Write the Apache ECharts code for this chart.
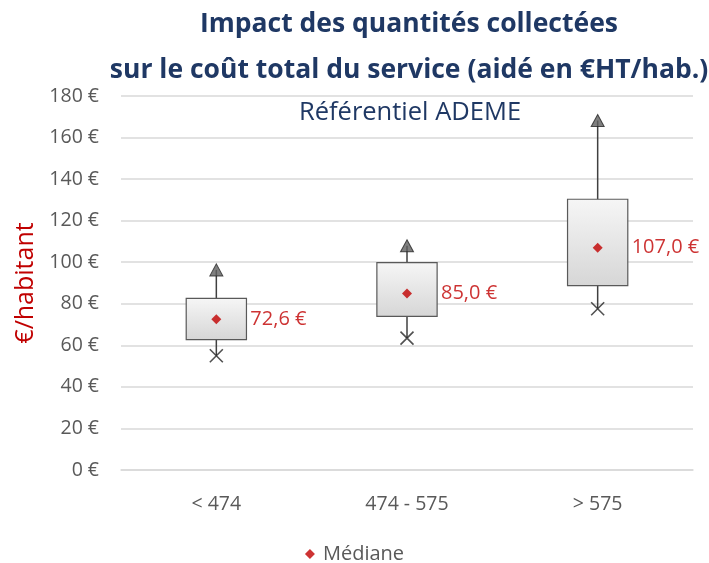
<!DOCTYPE html>
<html><head><meta charset="utf-8">
<script src="https://cdn.jsdelivr.net/npm/echarts@6/dist/echarts.min.js"></script>
<style>html,body{margin:0;padding:0;background:#fff}#c{width:709px;height:563px}</style>
</head><body><div id="c"></div>
<script>
const categories = ['< 474', '474 - 575', '> 575'];
const q1Values = [62.7, 73.9, 88.7];
const q3Values = [82.6, 99.8, 130.3];
const maxValues = [96.3, 107.9, 168.2];
const minValues = [55.0, 63.5, 77.6];
const medianValues = [72.6, 85.0, 107.0];
const yTicks = [0, 20, 40, 60, 80, 100, 120, 140, 160, 180];

const chart = echarts.init(document.getElementById('c'));
const FONT = 'Open Sans';
const boxData = categories.map((c, i) => [i, q1Values[i], q3Values[i], minValues[i], maxValues[i]]);

chart.setOption({
  animation: false,
  textStyle: { fontFamily: FONT },
  title: [
    { text: 'Impact des quantités collectées', left: 404, top: 6, textAlign: 'center',
      textStyle: { fontFamily: FONT, fontSize: 26.5, fontWeight: 'bold', color: '#1F3864' } },
    { text: 'sur le coût total du service (aidé en €HT/hab.)', left: 404, top: 52, textAlign: 'center',
      textStyle: { fontFamily: FONT, fontSize: 26.5, fontWeight: 'bold', color: '#1F3864' } },
    { text: 'Référentiel ADEME', left: 405, top: 95, textAlign: 'center',
      textStyle: { fontFamily: FONT, fontSize: 25.5, fontWeight: 'normal', color: '#1F3864' } }
  ],
  grid: { left: 121, right: 16, top: 96, bottom: 93 },
  legend: {
    top: 539, left: 'center', itemWidth: 10, itemHeight: 10,
    data: [{ name: 'Médiane', icon: 'diamond' }],
    textStyle: { fontFamily: FONT, fontSize: 20, color: '#595959', padding: [0, 0, 0, 3] }
  },
  xAxis: {
    type: 'category', data: categories,
    axisLine: { show: true, lineStyle: { color: '#d9d9d9', width: 1.5 } },
    axisTick: { show: false },
    axisLabel: { fontFamily: FONT, fontSize: 19.5, color: '#595959', margin: 24 }
  },
  yAxis: {
    type: 'value', min: 0, max: 180, interval: 20,
    name: '€/habitant', nameLocation: 'middle', nameGap: 82, nameRotate: 90,
    nameTextStyle: { fontFamily: FONT, fontSize: 25, color: '#C00000' },
    axisLine: { show: false }, axisTick: { show: false },
    splitLine: { lineStyle: { color: '#d9d9d9', width: 1.5 } },
    axisLabel: { fontFamily: FONT, fontSize: 19.5, color: '#595959', margin: 22,
      formatter: v => yTicks.includes(v) ? v + ' €' : '' }
  },
  series: [
    {
      name: 'box', type: 'custom', data: boxData, z: 2,
      renderItem: function (params, api) {
        const i = api.value(0);
        const pLow = api.coord([i, api.value(1)]);
        const pHigh = api.coord([i, api.value(2)]);
        const pMin = api.coord([i, api.value(3)]);
        const pMax = api.coord([i, api.value(4)]);
        const w = api.size([1, 0])[0] * 0.316;
        return {
          type: 'group',
          children: [
            { type: 'line', shape: { x1: pHigh[0], y1: pHigh[1], x2: pMax[0], y2: pMax[1] },
              style: { stroke: '#404040', lineWidth: 1.5 } },
            { type: 'line', shape: { x1: pLow[0], y1: pLow[1], x2: pMin[0], y2: pMin[1] },
              style: { stroke: '#404040', lineWidth: 1.5 } },
            { type: 'rect', shape: { x: pHigh[0] - w / 2, y: pHigh[1], width: w, height: pLow[1] - pHigh[1] },
              style: {
                fill: new echarts.graphic.LinearGradient(0, 0, 0, 1, [
                  { offset: 0, color: '#f6f6f6' }, { offset: 1, color: '#d6d6d6' }]),
                stroke: '#595959', lineWidth: 1.2 } }
          ]
        };
      }
    },
    {
      name: 'Maximum', type: 'scatter', symbol: 'triangle', symbolSize: [13, 12], z: 5,
      data: maxValues.map((v, i) => [i, v]),
      itemStyle: { color: '#5f5f5f', borderColor: '#262626', borderWidth: 1 }
    },
    {
      name: 'Minimum', type: 'scatter', symbol: 'path://M0,0L10,10M10,0L0,10', symbolSize: 13, z: 5,
      data: minValues.map((v, i) => [i, v]),
      itemStyle: { color: 'none', borderColor: '#262626', borderWidth: 1.6 }
    },
    {
      name: 'Médiane', type: 'scatter', symbol: 'diamond', symbolSize: 10, z: 6,
      data: medianValues.map((v, i) => [i, v]),
      itemStyle: { color: '#C00000' },
      label: { show: true, position: 'right', distance: 29,
        fontFamily: FONT, fontSize: 20, color: '#C00000',
        formatter: p => p.value[1].toFixed(1).replace('.', ',') + ' €' }
    }
  ]
});
</script></body></html>
